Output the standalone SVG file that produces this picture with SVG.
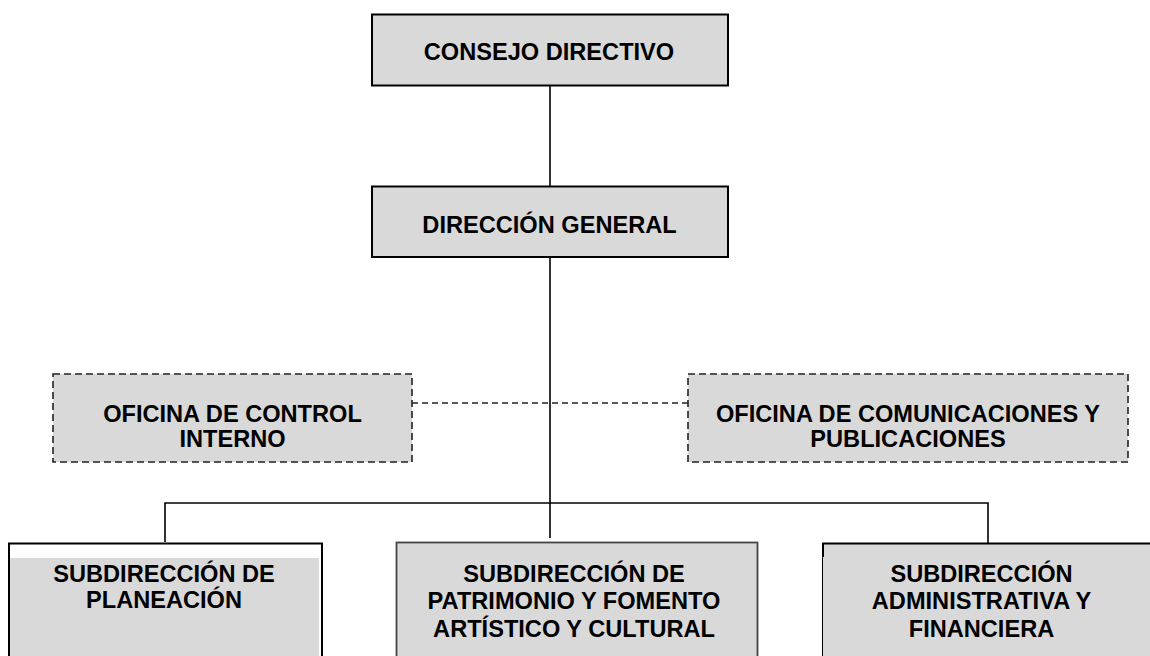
<svg xmlns="http://www.w3.org/2000/svg" width="1150" height="656" viewBox="0 0 1150 656">
<style>
text{font-family:"Liberation Sans",Arial,sans-serif;font-weight:bold;font-size:23.6px;fill:#000;text-anchor:middle}
.box{fill:#d9d9d9;stroke:#000;stroke-width:2}
.dbox{fill:#d9d9d9;stroke:#222;stroke-width:1.6;stroke-dasharray:7 4}
.ln{stroke:#000;stroke-width:1.6;fill:none}
.dl{stroke:#222;stroke-width:1.3;fill:none;stroke-dasharray:6 4}
</style>
<rect width="1150" height="656" fill="#fff"/>
<g id="connectors">
<line class="ln" x1="550" y1="86" x2="550" y2="186"/>
<line class="ln" x1="550" y1="257" x2="550" y2="538"/>
<line class="dl" x1="412" y1="403" x2="688" y2="403"/>
<polyline class="ln" points="165,542 165,503 988,503 988,543"/>
</g>
<g id="consejo">
<rect class="box" x="372" y="14.5" width="356" height="71"/>
<text x="549" y="60">CONSEJO DIRECTIVO</text>
</g>
<g id="direccion">
<rect class="box" x="372" y="186.5" width="356" height="70.5"/>
<text x="549.5" y="233">DIRECCIÓN GENERAL</text>
</g>
<g id="control">
<rect class="dbox" x="53" y="374" width="359" height="88"/>
<text x="232.5" y="421.7">OFICINA DE CONTROL</text>
<text x="232.5" y="446.7">INTERNO</text>
</g>
<g id="comunicaciones">
<rect class="dbox" x="688" y="374" width="440" height="88"/>
<text x="908" y="421.7">OFICINA DE COMUNICACIONES Y</text>
<text x="908" y="446.7">PUBLICACIONES</text>
</g>
<g id="planeacion">
<rect x="9" y="543.5" width="313" height="120" fill="#fff" stroke="#000" stroke-width="2"/>
<rect x="10" y="558" width="309" height="110" fill="#d9d9d9"/>
<text x="164" y="581.7">SUBDIRECCIÓN DE</text>
<text x="164" y="608.3">PLANEACIÓN</text>
</g>
<g id="patrimonio">
<rect x="396.5" y="542.5" width="361" height="125" fill="#d9d9d9" stroke="#444" stroke-width="1.8"/>
<text x="574" y="581.7">SUBDIRECCIÓN DE</text>
<text x="574" y="609">PATRIMONIO Y FOMENTO</text>
<text x="574" y="636.5">ARTÍSTICO Y CULTURAL</text>
</g>
<g id="administrativa">
<rect x="822.5" y="543.5" width="330" height="125" fill="#d9d9d9" stroke="#000" stroke-width="1"/>
<line x1="822" y1="543.5" x2="1152" y2="543.5" stroke="#000" stroke-width="2"/>
<line x1="823" y1="543" x2="823" y2="557" stroke="#000" stroke-width="2"/>
<text x="981.5" y="581.7">SUBDIRECCIÓN</text>
<text x="981.5" y="609">ADMINISTRATIVA Y</text>
<text x="981.5" y="636.5">FINANCIERA</text>
</g>
</svg>
